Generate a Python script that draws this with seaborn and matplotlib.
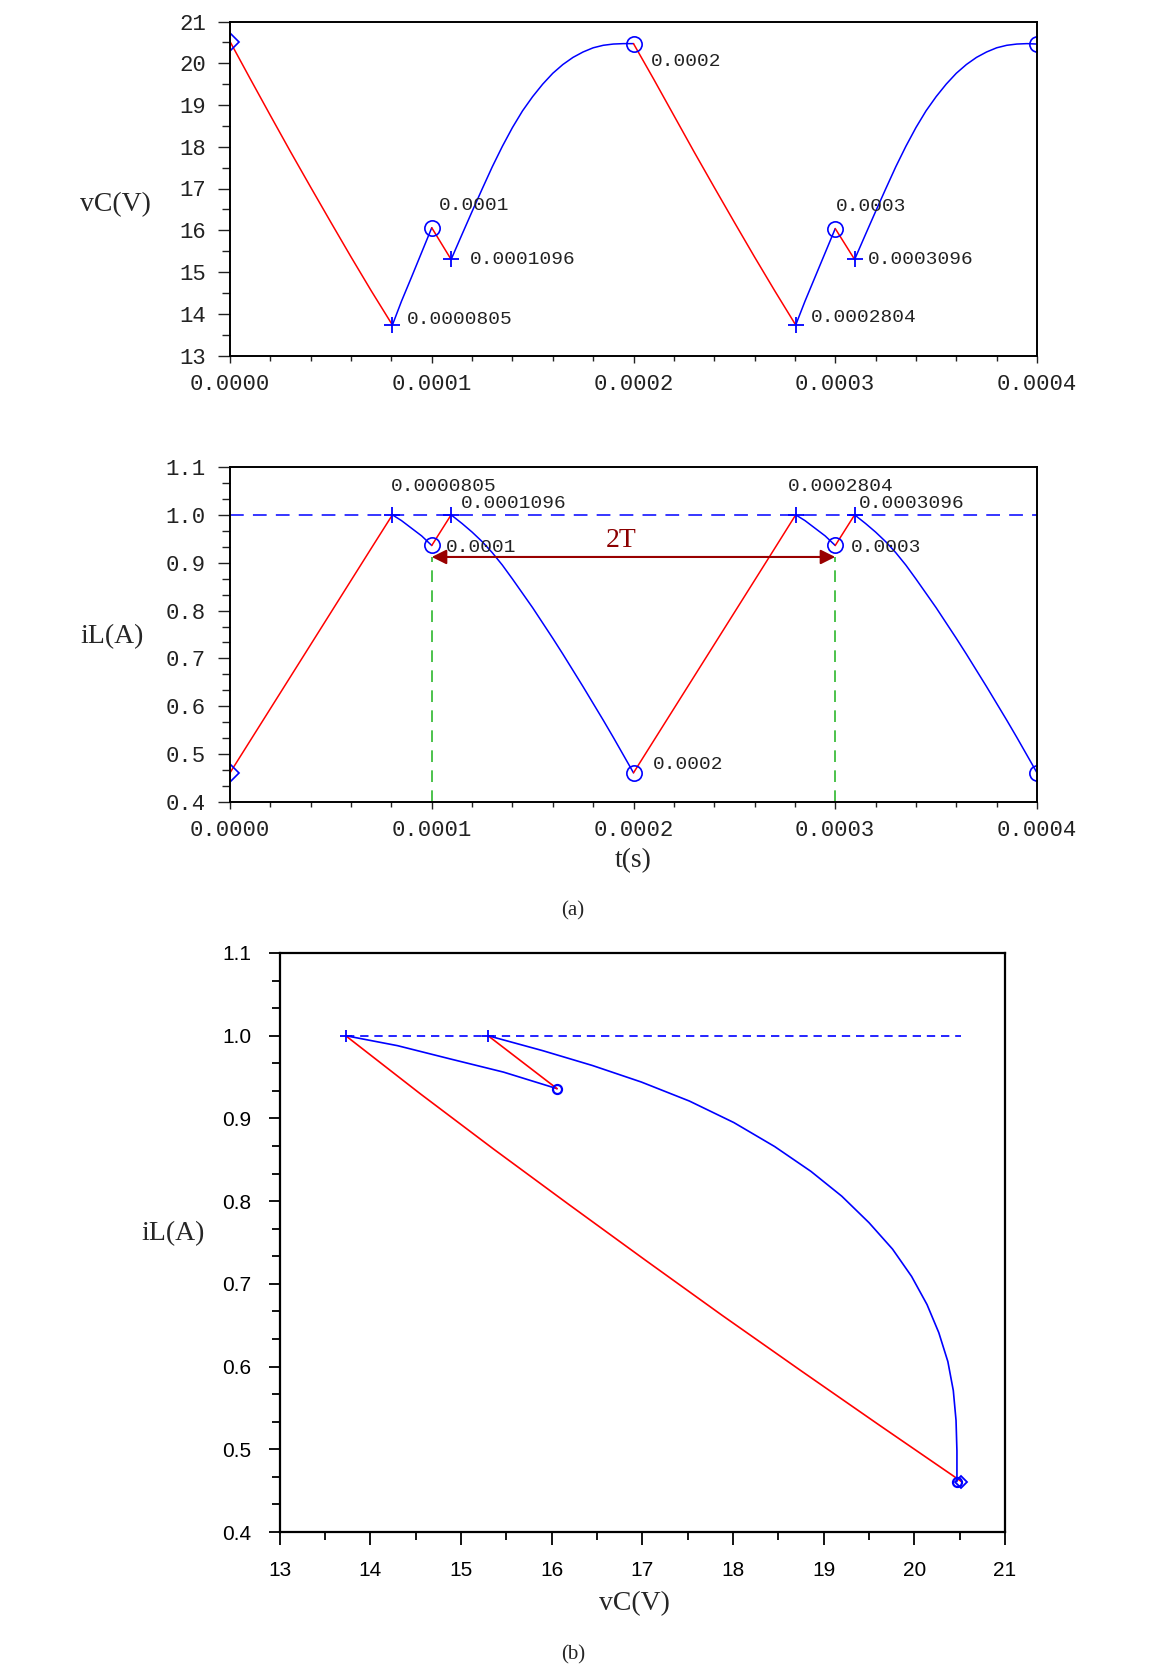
import numpy as np
import matplotlib
matplotlib.use('Agg')
import matplotlib.pyplot as plt
import seaborn as sns
from matplotlib.ticker import MultipleLocator, AutoMinorLocator, FormatStrFormatter

sns.set_style('white')
plt.rcParams['font.family'] = ['DejaVu Sans']

# Time samples (s) over two periods
t = [0.0, 0.00001, 0.00002, 0.00003, 0.00004, 0.00005, 0.00006, 0.00007, 0.0000805,
     0.000085, 0.00009, 0.000095, 0.0001, 0.0001096,
     0.000115, 0.00012, 0.000125, 0.00013, 0.000135, 0.00014, 0.000145, 0.00015,
     0.000155, 0.00016, 0.000165, 0.00017, 0.000175, 0.00018, 0.000185, 0.00019,
     0.000195, 0.0002,
     0.00021, 0.00022, 0.00023, 0.00024, 0.00025, 0.00026, 0.00027, 0.0002804,
     0.000285, 0.00029, 0.000295, 0.0003, 0.0003096,
     0.000315, 0.00032, 0.000325, 0.00033, 0.000335, 0.00034, 0.000345, 0.00035,
     0.000355, 0.00036, 0.000365, 0.00037, 0.000375, 0.00038, 0.000385, 0.00039,
     0.000395, 0.0004]
vc = [20.52, 19.63, 18.75, 17.88, 17.03, 16.19, 15.36, 14.55, 13.73,
      14.30, 14.88, 15.47, 16.06, 15.30,
      15.90, 16.45, 16.99, 17.52, 18.01, 18.46, 18.86, 19.20,
      19.50, 19.76, 19.97, 20.14, 20.27, 20.37, 20.43, 20.46,
      20.47, 20.47,
      19.62, 18.75, 17.88, 17.03, 16.19, 15.36, 14.55, 13.73,
      14.30, 14.88, 15.46, 16.04, 15.30,
      15.90, 16.45, 16.99, 17.52, 18.01, 18.46, 18.86, 19.20,
      19.50, 19.76, 19.97, 20.14, 20.27, 20.37, 20.43, 20.46,
      20.47, 20.46]
il = [0.461, 0.528, 0.595, 0.662, 0.729, 0.796, 0.863, 0.930, 1.000,
      0.988, 0.972, 0.956, 0.936, 1.000,
      0.982, 0.964, 0.944, 0.921, 0.895, 0.866, 0.836, 0.806,
      0.774, 0.742, 0.709, 0.675, 0.641, 0.606, 0.571, 0.535,
      0.498, 0.461,
      0.528, 0.595, 0.662, 0.729, 0.796, 0.863, 0.930, 1.000,
      0.988, 0.972, 0.956, 0.936, 1.000,
      0.982, 0.964, 0.944, 0.921, 0.895, 0.866, 0.836, 0.806,
      0.774, 0.742, 0.709, 0.675, 0.641, 0.606, 0.571, 0.535,
      0.498, 0.461]

# switching instants and the colour of each interval between them
switch_t = [0.0, 0.0000805, 0.0001, 0.0001096, 0.0002, 0.0002804, 0.0003, 0.0003096, 0.0004]
seg_colors = ['red', 'blue', 'red', 'blue', 'red', 'blue', 'red', 'blue']

plus_t = [0.0000805, 0.0001096, 0.0002804, 0.0003096]
circle_t = [0.0001, 0.0002, 0.0003, 0.0004]
diamond_t = [0.0]

label_text = ['0.0000805', '0.0001096', '0.0001', '0.0002', '0.0002804', '0.0003096', '0.0003']
label_t = [0.0000805, 0.0001096, 0.0001, 0.0002, 0.0002804, 0.0003096, 0.0003]
top_offsets = [(14, 6), (19, 0), (7, 22), (17, -18), (15, 8), (13, 0), (1, 22)]
mid_offsets = [(-2, 28), (10, 11), (14, -2), (19, 8), (-8, 28), (4, 11), (16, -2)]

period_marks = [0.0001, 0.0003]
arrow_level = 0.912
i_ref = 1.0

t = np.array(t)
vc = np.array(vc)
il = np.array(il)


def idx(tv):
    return int(np.argmin(np.abs(t - tv)))


def segments():
    for k in range(len(switch_t) - 1):
        m = (t >= switch_t[k] - 1e-9) & (t <= switch_t[k + 1] + 1e-9)
        yield m, seg_colors[k]


W, H = 1151, 1671
fig = plt.figure(figsize=(W / 100, H / 100), dpi=100)


def rect(l, r, top, bot):
    return [l / W, 1 - bot / H, (r - l) / W, (bot - top) / H]


ax1 = fig.add_axes(rect(230, 1037, 21.5, 355.5))
ax2 = fig.add_axes(rect(230, 1037, 467, 802))
ax3 = fig.add_axes(rect(279.5, 1005, 953, 1532))

mono = 'Liberation Mono'
serif = 'Liberation Serif'

# time plots
for ax, y, offs in [(ax1, vc, top_offsets), (ax2, il, mid_offsets)]:
    for m, c in segments():
        sns.lineplot(x=t[m], y=y[m], color=c, lw=1.1, sort=False, estimator=None, ax=ax)
    ax.plot(t[[idx(v) for v in plus_t]], y[[idx(v) for v in plus_t]], ls='none',
            marker='+', ms=11, mew=1.3, color='blue')
    ax.plot(t[[idx(v) for v in circle_t]], y[[idx(v) for v in circle_t]], ls='none',
            marker='o', ms=11, mew=1.2, mfc='none', mec='blue')
    ax.plot(t[[idx(v) for v in diamond_t]], y[[idx(v) for v in diamond_t]], ls='none',
            marker='D', ms=9, mew=1.2, mfc='none', mec='blue')
    for txt, tv, off in zip(label_text, label_t, offs):
        ax.annotate(txt, xy=(tv, y[idx(tv)]), xytext=off, textcoords='offset pixels',
                    ha='left', va='center', fontsize=14, family=mono, color='#222222')
    ax.set_xlim(0, 0.0004)
    ax.xaxis.set_major_locator(MultipleLocator(0.0001))
    ax.xaxis.set_minor_locator(AutoMinorLocator(5))
    ax.xaxis.set_major_formatter(FormatStrFormatter('%.4f'))
    ax.tick_params(axis='both', which='both', direction='out', labelfontfamily=mono,
                   labelsize=16, colors='#222222')
    ax.tick_params(axis='y', which='major', length=8.5, width=1, left=True, pad=9)
    ax.tick_params(axis='y', which='minor', length=6, width=1, left=True)
    ax.tick_params(axis='x', which='major', length=5, width=1, bottom=True, pad=8)
    ax.tick_params(axis='x', which='minor', length=3.5, width=1, bottom=True)
    for s in ax.spines.values():
        s.set_color('black')
        s.set_linewidth(1.4)
    ax.set_xlabel('')
    ax.set_ylabel('')

ax1.set_ylim(13, 21)
ax1.yaxis.set_major_locator(MultipleLocator(1))
ax1.yaxis.set_minor_locator(AutoMinorLocator(2))

ax2.set_ylim(0.4, 1.1)
ax2.yaxis.set_major_locator(MultipleLocator(0.1))
ax2.yaxis.set_minor_locator(AutoMinorLocator(3))
ax2.yaxis.set_major_formatter(FormatStrFormatter('%.1f'))
ax2.axhline(i_ref, color='blue', lw=1.1, ls=(0, (9, 6)), zorder=1)
for tm in period_marks:
    ax2.plot([tm, tm], [0.4, arrow_level], color='#2db82d', lw=1.2, ls=(0, (7, 5)))
ax2.annotate('', xy=(period_marks[1], arrow_level), xytext=(period_marks[0], arrow_level),
             arrowprops=dict(arrowstyle='<|-|>', color='#990000', lw=1.5,
                             mutation_scale=22, shrinkA=0, shrinkB=0))
ax2.text(0.000194, 0.947, '2T', ha='center', va='center', fontsize=20,
         family=serif, color='#8b0000')

# phase plane
for m, c in list(segments())[:4]:
    sns.lineplot(x=vc[m], y=il[m], color=c, lw=1.2, sort=False, estimator=None, ax=ax3)
i0, i1 = idx(plus_t[0]), idx(diamond_t[0])
ax3.plot([vc[i0], vc[i1]], [i_ref, i_ref], color='blue', lw=1.2, ls=(0, (5, 3.5)))
ax3.plot(vc[[idx(v) for v in plus_t[:2]]], il[[idx(v) for v in plus_t[:2]]], ls='none',
         marker='+', ms=9, mew=1.3, color='blue')
ax3.plot(vc[[idx(v) for v in circle_t[:2]]], il[[idx(v) for v in circle_t[:2]]], ls='none',
         marker='o', ms=6.5, mew=1.6, mfc='none', mec='blue')
ax3.plot(vc[[i1]], il[[i1]], ls='none', marker='D', ms=6, mew=1.3, mfc='none', mec='blue')
ax3.set_xlim(13, 21)
ax3.set_ylim(0.4, 1.1)
ax3.xaxis.set_major_locator(MultipleLocator(1))
ax3.xaxis.set_minor_locator(AutoMinorLocator(2))
ax3.yaxis.set_major_locator(MultipleLocator(0.1))
ax3.yaxis.set_minor_locator(AutoMinorLocator(3))
ax3.yaxis.set_major_formatter(FormatStrFormatter('%.1f'))
ax3.tick_params(axis='both', which='both', direction='out', labelfontfamily='Liberation Sans',
                labelsize=15, colors='black')
ax3.tick_params(axis='y', which='major', length=8, width=1.3, left=True, pad=12)
ax3.tick_params(axis='y', which='minor', length=6, width=1.3, left=True)
ax3.tick_params(axis='x', which='major', length=9, width=1.3, bottom=True, pad=12)
ax3.tick_params(axis='x', which='minor', length=6, width=1.3, bottom=True)
for s in ax3.spines.values():
    s.set_color('black')
    s.set_linewidth(1.6)
ax3.set_xlabel('')
ax3.set_ylabel('')


def ftext(px, py, s, size):
    fig.text(px / W, 1 - py / H, s, ha='center', va='center', fontsize=size, family=serif)


ftext(115, 205, 'vC(V)', 20)
ftext(112, 637, 'iL(A)', 20)
ftext(633, 861, 't(s)', 20)
ftext(573, 911, '(a)', 15)
ftext(173, 1234, 'iL(A)', 20)
ftext(634, 1604, 'vC(V)', 20)
ftext(573, 1655, '(b)', 15)

fig.savefig('out.png', dpi=100)
